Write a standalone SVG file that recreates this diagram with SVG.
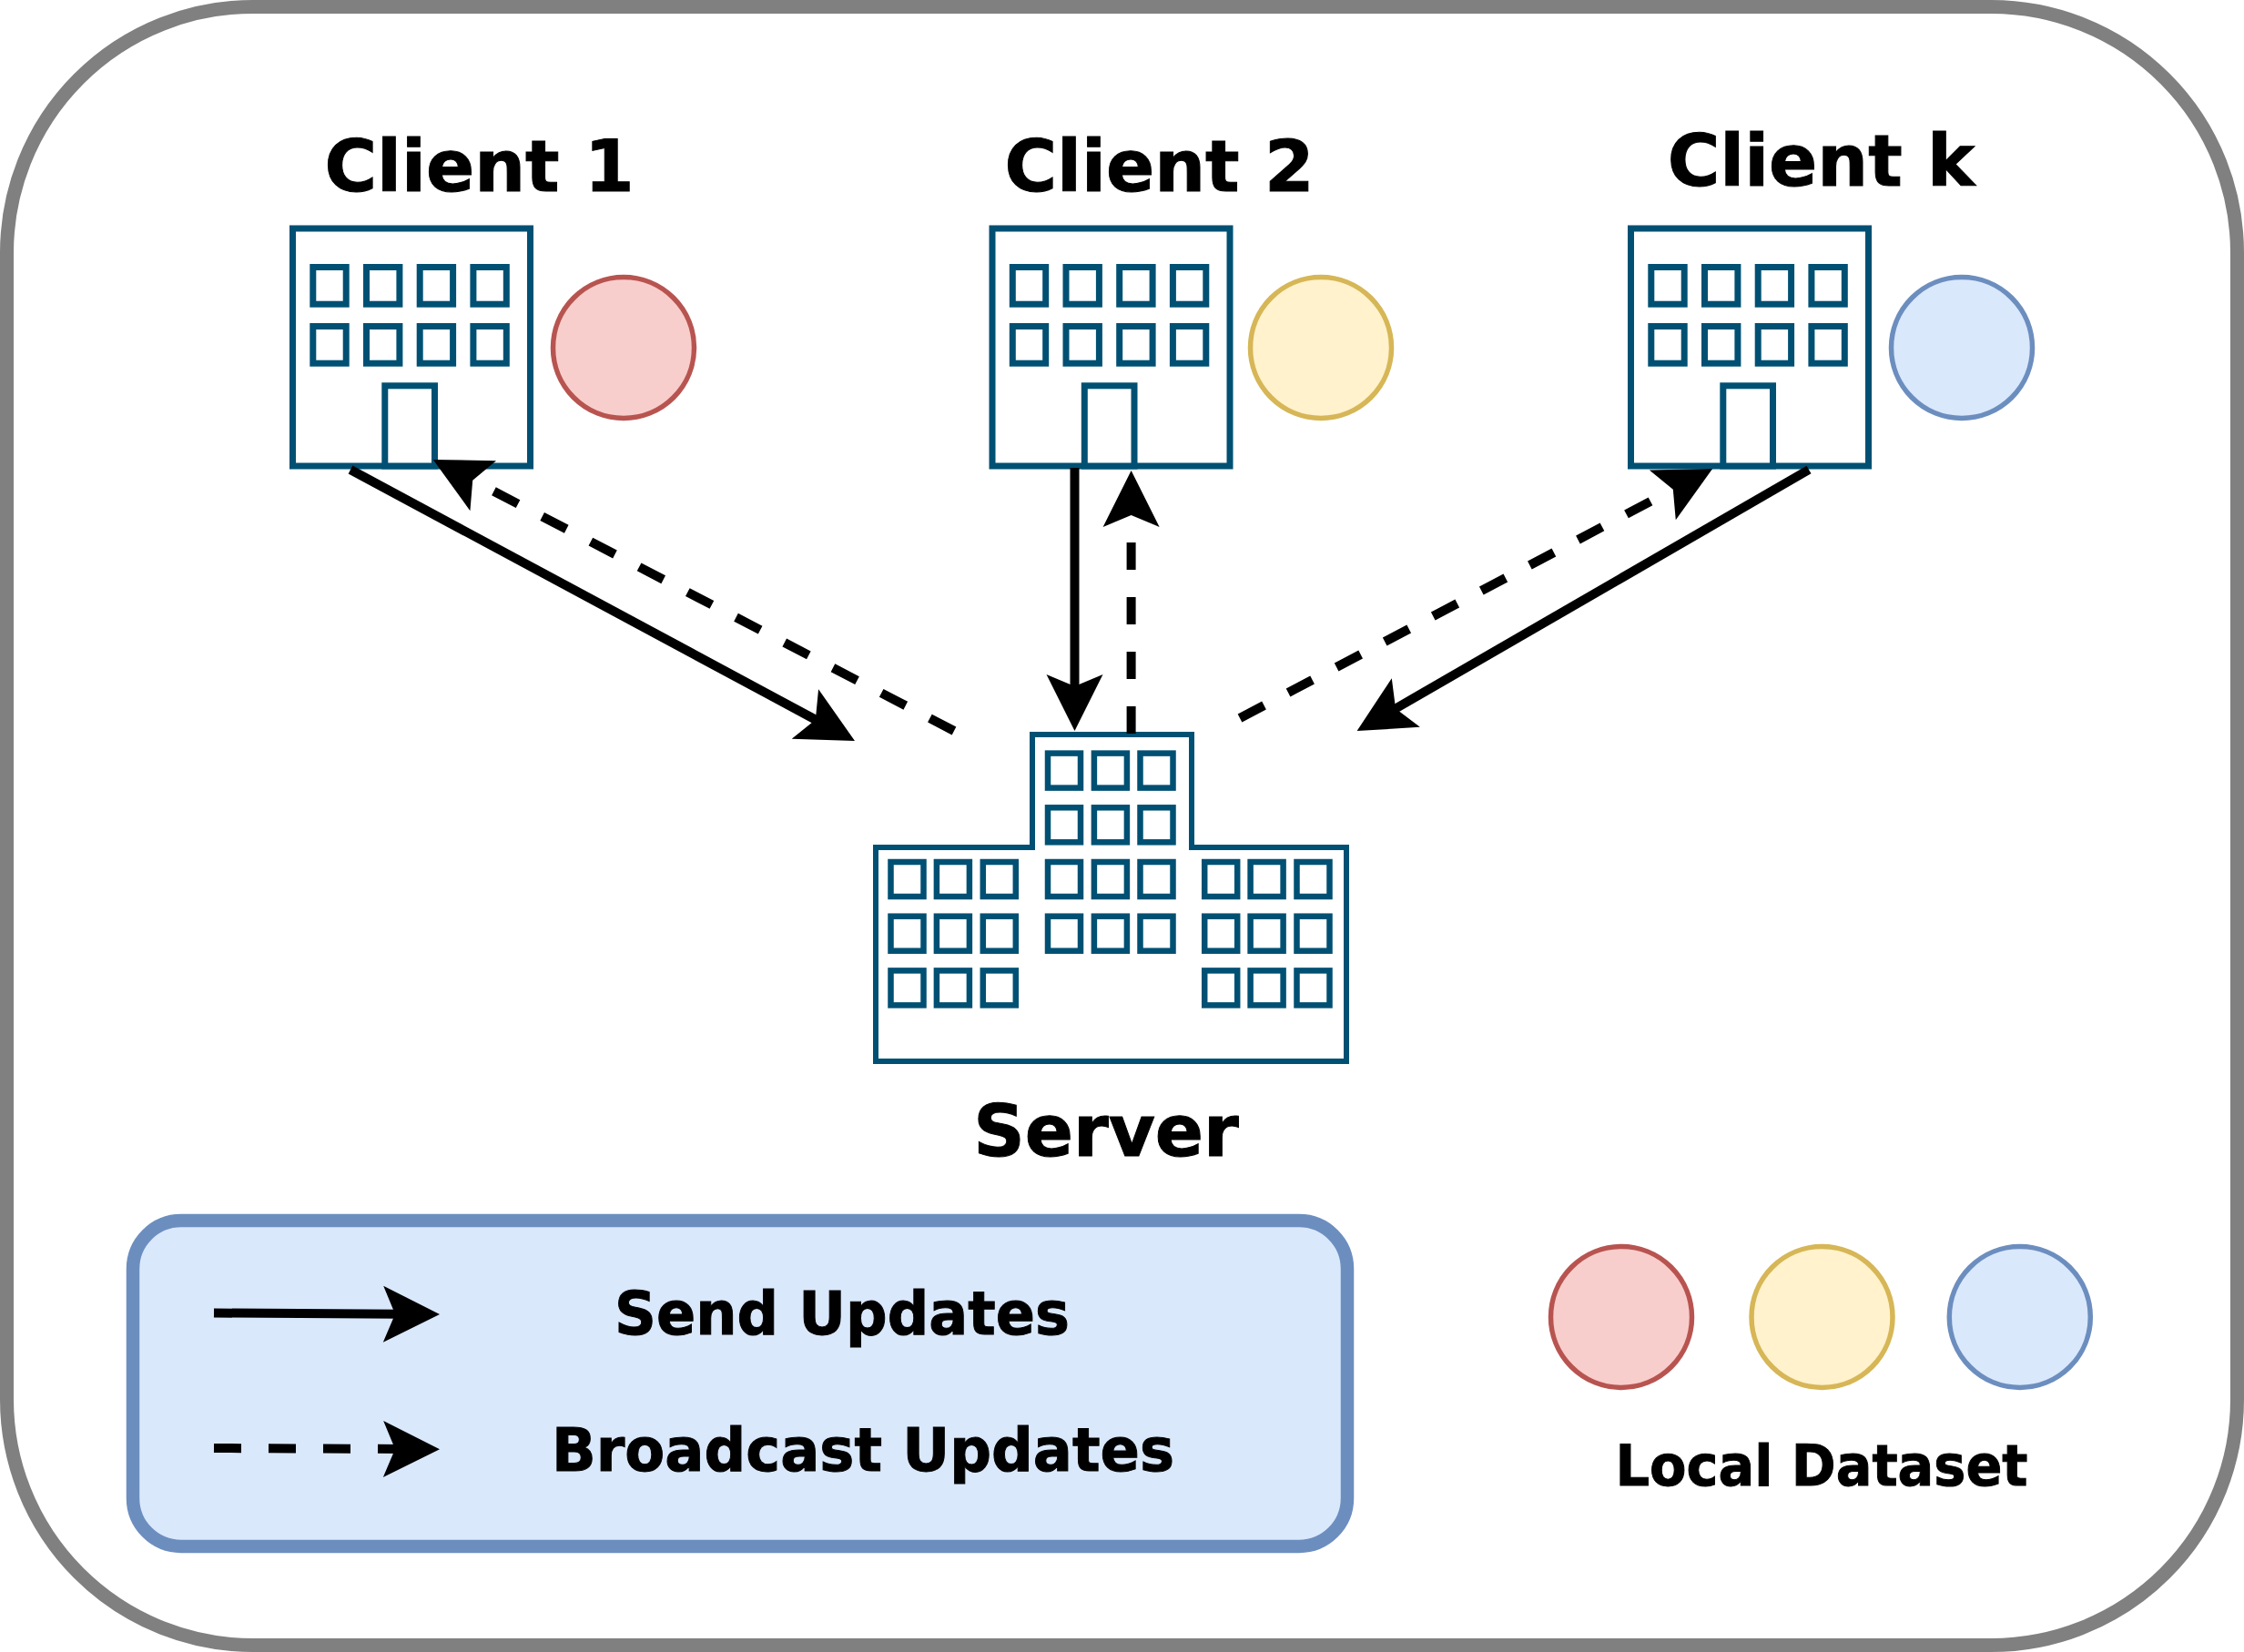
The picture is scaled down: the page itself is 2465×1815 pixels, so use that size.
<svg xmlns="http://www.w3.org/2000/svg" xmlns:xlink="http://www.w3.org/1999/xlink" width="2465" height="1815" viewBox="0 0 2465 1815">
<style>
.t{font-family:"DejaVu Sans",sans-serif;font-weight:bold;fill:#000;stroke:#000;stroke-width:1;text-anchor:middle}
.big{font-size:78.5px}.mid{font-size:66px}
.b{fill:#fff;stroke:#005073;stroke-width:7;stroke-linejoin:miter}
.w{fill:#fff;stroke:#005073;stroke-width:6.5}
.c{stroke:#000;stroke-width:10;fill:none}
.d{stroke-dasharray:30 30}
.e{stroke-width:5.5}
.red{fill:#f8cecc;stroke:#b85450}.yel{fill:#fff2cc;stroke:#d6b656}.blu{fill:#dae8fc;stroke:#6c8ebf}
</style>
<defs>
<marker id="a" markerUnits="userSpaceOnUse" markerWidth="62" markerHeight="62" refX="20" refY="31" orient="auto" overflow="visible">
<path d="M62,31 L0,0 L13,31 L0,62 Z" fill="#000"/>
</marker>
<g id="bld">
<rect class="b" x="321.5" y="251" width="261" height="261"/>
<g id="wr"><rect class="b" x="343.8" y="293.5" width="36.4" height="40.7"/><rect class="b" x="402.5" y="293.5" width="36.4" height="40.7"/><rect class="b" x="461.2" y="293.5" width="36.4" height="40.7"/><rect class="b" x="519.9" y="293.5" width="36.4" height="40.7"/></g>
<use xlink:href="#wr" href="#wr" y="65"/>
<rect class="b" x="422.8" y="423.8" width="54.7" height="88.2"/>
</g>
<rect id="sw" class="w" x="-0.5" y="-1" width="36" height="38"/>
</defs>
<rect id="frame" x="7.5" y="7.5" width="2450" height="1800" rx="270" ry="270" fill="#fff" stroke="#808080" stroke-width="15"/>
<g id="client1"><use xlink:href="#bld" href="#bld"/><circle class="red e" cx="685" cy="382" r="77.5"/><text class="t big" x="526.5" y="210">Client 1</text></g>
<g id="client2"><use xlink:href="#bld" href="#bld" x="768.5"/><circle class="yel e" cx="1451" cy="382" r="77.5"/><text class="t big" x="1273.5" y="210">Client 2</text></g>
<g id="clientk"><use xlink:href="#bld" href="#bld" x="1470"/><circle class="blu e" cx="2155" cy="382" r="77.5"/><text class="t big" x="2000.5" y="204">Client k</text></g>
<g id="server">
<path class="w" style="stroke-width:6" d="M962,931 H1134 V807 H1309 V931 H1479 V1166 H962 Z"/>
<g id="col3">
<use xlink:href="#sw" href="#sw" x="979" y="948"/><use xlink:href="#sw" href="#sw" x="1029.4" y="948"/><use xlink:href="#sw" href="#sw" x="1080.3" y="948"/>
<use xlink:href="#sw" href="#sw" x="979" y="1007.7"/><use xlink:href="#sw" href="#sw" x="1029.4" y="1007.7"/><use xlink:href="#sw" href="#sw" x="1080.3" y="1007.7"/>
<use xlink:href="#sw" href="#sw" x="979" y="1067.4"/><use xlink:href="#sw" href="#sw" x="1029.4" y="1067.4"/><use xlink:href="#sw" href="#sw" x="1080.3" y="1067.4"/>
</g>
<use xlink:href="#col3" href="#col3" x="344.7"/>
<use xlink:href="#sw" href="#sw" x="1151.5" y="828.6"/><use xlink:href="#sw" href="#sw" x="1202.4" y="828.6"/><use xlink:href="#sw" href="#sw" x="1253" y="828.6"/>
<use xlink:href="#sw" href="#sw" x="1151.5" y="888.3"/><use xlink:href="#sw" href="#sw" x="1202.4" y="888.3"/><use xlink:href="#sw" href="#sw" x="1253" y="888.3"/>
<use xlink:href="#sw" href="#sw" x="1151.5" y="948"/><use xlink:href="#sw" href="#sw" x="1202.4" y="948"/><use xlink:href="#sw" href="#sw" x="1253" y="948"/>
<use xlink:href="#sw" href="#sw" x="1151.5" y="1007.7"/><use xlink:href="#sw" href="#sw" x="1202.4" y="1007.7"/><use xlink:href="#sw" href="#sw" x="1253" y="1007.7"/>
<text class="t big" x="1215" y="1270">Server</text>
</g>
<g id="connectors">
<line class="c" x1="385" y1="516" x2="902" y2="794" marker-end="url(#a)"/>
<line class="c d" x1="1048" y1="803" x2="513" y2="524.4" marker-end="url(#a)"/>
<line class="c" x1="1180.5" y1="514" x2="1180.5" y2="761" marker-end="url(#a)"/>
<line class="c d" x1="1242.6" y1="806" x2="1242.6" y2="559" marker-end="url(#a)"/>
<line class="c" x1="1987" y1="516" x2="1527" y2="782" marker-end="url(#a)"/>
<line class="c d" x1="1362" y1="789" x2="1844" y2="534.6" marker-end="url(#a)"/>
</g>
<g id="legend">
<rect x="146" y="1341" width="1334" height="358" rx="53" ry="53" fill="#dae8fc" stroke="#6c8ebf" stroke-width="14.5"/>
<line class="c" x1="235" y1="1442.5" x2="441" y2="1443.8" marker-end="url(#a)"/>
<line class="c d" x1="235" y1="1591" x2="441" y2="1592" marker-end="url(#a)"/>
<text class="t mid" x="925" y="1466" textLength="500" lengthAdjust="spacingAndGlyphs">Send Updates</text>
<text class="t mid" x="948" y="1616" textLength="684" lengthAdjust="spacingAndGlyphs">Broadcast Updates</text>
</g>
<g id="dataset">
<circle class="red e" cx="1781" cy="1447" r="77.5"/>
<circle class="yel e" cx="2001.5" cy="1447" r="77.5"/>
<circle class="blu e" cx="2218.8" cy="1447" r="77.5"/>
<text class="t" style="font-size:62px" x="2001" y="1632" textLength="453" lengthAdjust="spacingAndGlyphs">Local Dataset</text>
</g>
</svg>
